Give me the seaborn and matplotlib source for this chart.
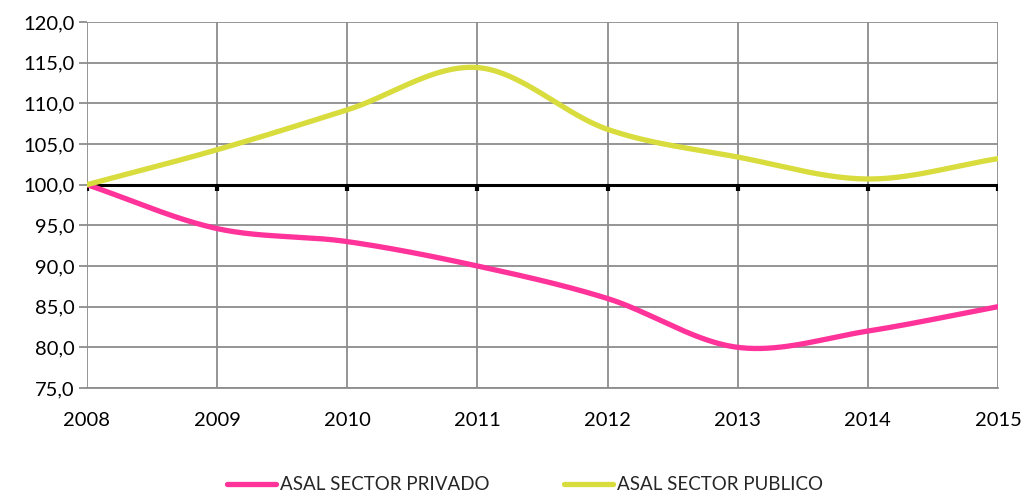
import numpy as np
import pandas as pd
import seaborn as sns
import matplotlib.pyplot as plt
from matplotlib.lines import Line2D

years = [2008, 2009, 2010, 2011, 2012, 2013, 2014, 2015]
privado = [100.0, 94.6, 93.0, 90.0, 86.0, 80.0, 82.0, 85.0]
publico = [100.0, 104.3, 109.2, 114.4, 106.8, 103.4, 100.7, 103.2]
series_names = ['ASAL SECTOR PRIVADO', 'ASAL SECTOR PUBLICO']
colors = ['#FF3399', '#D8DC3C']


def smooth(x, y, n=40):
    # Catmull-Rom style smoothing, like Excel's "smoothed line"
    x = np.asarray(x, float)
    y = np.asarray(y, float)
    px = np.concatenate([[2 * x[0] - x[1]], x, [2 * x[-1] - x[-2]]])
    py = np.concatenate([[2 * y[0] - y[1]], y, [2 * y[-1] - y[-2]]])
    xs, ys = [], []
    t = np.linspace(0, 1, n)
    for i in range(1, len(px) - 2):
        p0, p1, p2, p3 = (np.array([px[j], py[j]]) for j in range(i - 1, i + 3))
        c1 = p1 + (p2 - p0) / 6
        c2 = p2 - (p3 - p1) / 6
        pts = ((1 - t) ** 3)[:, None] * p1 + (3 * (1 - t) ** 2 * t)[:, None] * c1 \
            + (3 * (1 - t) * t ** 2)[:, None] * c2 + (t ** 3)[:, None] * p2
        xs.extend(pts[:, 0])
        ys.extend(pts[:, 1])
    return np.array(xs), np.array(ys)


sns.set_theme(style='white')
plt.rcParams['font.family'] = ['Lato', 'DejaVu Sans']

fig = plt.figure(figsize=(10.25, 4.95), dpi=100)
ax = fig.add_axes([87 / 1025, 1 - 388 / 495, (998 - 87) / 1025, (388 - 22) / 495])

frames = []
for name, vals in zip(series_names, [privado, publico]):
    sx, sy = smooth(years, vals)
    frames.append(pd.DataFrame({'x': sx, 'y': sy, 'serie': name}))
df = pd.concat(frames, ignore_index=True)

sns.lineplot(data=df, x='x', y='y', hue='serie', palette=colors, sort=False,
             linewidth=3.8, legend=False, ax=ax, zorder=3, estimator=None)

# horizontal axis crossing at 100
ax.axhline(100, color='black', lw=2.2, zorder=2)
for yr in years:
    ax.plot([yr, yr], [100, 99.2], color='black', lw=3, zorder=2, solid_capstyle='butt')

ax.set_xlim(2008, 2015)
ax.set_ylim(75, 120)
ax.set_xticks(years)
ax.set_xticklabels([str(y) for y in years], fontsize=14.5, color='black')
ax.set_yticks(np.arange(75, 121, 5))
ax.set_yticklabels([f'{v:.1f}'.replace('.', ',') for v in np.arange(75, 121, 5)],
                   fontsize=14.5, color='black')
ax.grid(True, color='#8c8c8c', lw=1.3)
ax.set_axisbelow(True)
for s in ax.spines.values():
    s.set_visible(False)
ax.spines['bottom'].set_visible(True)
ax.spines['bottom'].set_color('#8c8c8c')
ax.spines['bottom'].set_linewidth(1.3)
ax.tick_params(axis='y', which='major', left=True, length=6, color='#8c8c8c', width=1.3, pad=3)
ax.tick_params(axis='x', which='major', bottom=False, pad=11)
ax.set_xlabel('')
ax.set_ylabel('')

handles = [Line2D([0], [0], color=c, lw=3.8, solid_capstyle='round') for c in colors]
fig.legend(handles, series_names, loc='center', bbox_to_anchor=(525 / 1025, 1 - 485 / 495),
           ncol=2, frameon=False, fontsize=13.5, handlelength=2.6, handletextpad=0.2,
           columnspacing=4.0)

fig.savefig('out.png', dpi=100)
